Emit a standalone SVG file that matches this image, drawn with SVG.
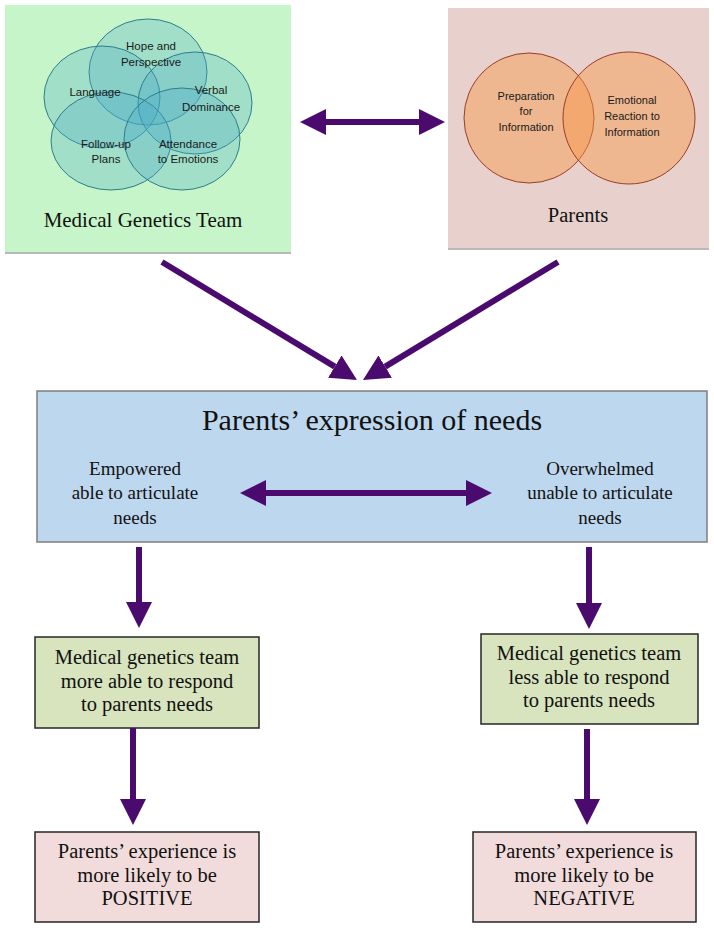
<svg xmlns="http://www.w3.org/2000/svg" width="714" height="928" viewBox="0 0 714 928">
<style>
.sans{font-family:"Liberation Sans","DejaVu Sans",sans-serif;font-size:11.5px;fill:#1a1a1a;text-anchor:middle}
.sans2{font-family:"Liberation Sans","DejaVu Sans",sans-serif;font-size:11px;fill:#1a1a1a;text-anchor:middle}
.serif{font-family:"Liberation Serif","DejaVu Serif",serif;fill:#111;text-anchor:middle}
.lbl{font-size:20.5px}
.mid{font-size:19px}
.conn{stroke:#4a0a6e;stroke-width:6;fill:none}
.venn1{fill:#4bacc6;fill-opacity:0.3;stroke:#2e7d8c;stroke-width:1}
.venn2{fill:#f79646;fill-opacity:0.45;stroke:#9b3c2a;stroke-width:1}
</style>
<defs>
<marker id="ah" markerUnits="userSpaceOnUse" viewBox="0 0 26 26" markerWidth="26" markerHeight="26" refX="0" refY="13" orient="auto-start-reverse">
<path d="M0,0 L26,13 L0,26 z" fill="#4a0a6e"/>
</marker>
</defs>
<rect width="714" height="928" fill="#fff"/>

<g id="medical-genetics-team">
<rect x="5" y="5" width="286" height="247" fill="#c6f5c9"/>
<line x1="5" y1="253" x2="291" y2="253" stroke="#b9b9b9" stroke-width="2"/>
<ellipse class="venn1" cx="148" cy="72" rx="59" ry="53"/>
<ellipse class="venn1" cx="102" cy="97" rx="58" ry="51"/>
<ellipse class="venn1" cx="195" cy="103" rx="57" ry="51"/>
<ellipse class="venn1" cx="111" cy="141" rx="60" ry="49"/>
<ellipse class="venn1" cx="182" cy="139" rx="58" ry="51"/>
<text class="sans" x="151" y="50">Hope and</text>
<text class="sans" x="151" y="66">Perspective</text>
<text class="sans" x="95" y="96">Language</text>
<text class="sans" x="211" y="94">Verbal</text>
<text class="sans" x="211" y="111">Dominance</text>
<text class="sans" x="106" y="148">Follow-up</text>
<text class="sans" x="106" y="163">Plans</text>
<text class="sans" x="188" y="148">Attendance</text>
<text class="sans" x="188" y="163">to Emotions</text>
<text class="serif" x="143" y="227" font-size="21">Medical Genetics Team</text>
</g>

<g id="parents">
<rect x="448" y="8" width="261" height="240" fill="#e8d1cc"/>
<line x1="448" y1="249" x2="709" y2="249" stroke="#b9b9b9" stroke-width="2"/>
<circle class="venn2" cx="529" cy="118" r="65"/>
<circle class="venn2" cx="629" cy="118" r="66"/>
<text class="sans2" x="526" y="100">Preparation</text>
<text class="sans2" x="526" y="115">for</text>
<text class="sans2" x="526" y="131">Information</text>
<text class="sans2" x="632" y="104">Emotional</text>
<text class="sans2" x="632" y="120">Reaction to</text>
<text class="sans2" x="632" y="136">Information</text>
<text class="serif" x="578" y="222" font-size="20.5">Parents</text>
</g>

<g id="expression-of-needs">
<rect x="37" y="391" width="670" height="151" fill="#bdd7ee" stroke="#7f7f7f" stroke-width="1.5"/>
<text class="serif" x="372" y="430" font-size="30">Parents’ expression of needs</text>
<text class="serif mid" x="135" y="475">Empowered</text>
<text class="serif mid" x="135" y="499">able to articulate</text>
<text class="serif mid" x="135" y="524">needs</text>
<text class="serif mid" x="600" y="475">Overwhelmed</text>
<text class="serif mid" x="600" y="499">unable to articulate</text>
<text class="serif mid" x="600" y="524">needs</text>
</g>

<g id="team-more-able">
<rect x="35" y="637" width="224" height="91" fill="#d7e4bd" stroke="#262626" stroke-width="1.5"/>
<text class="serif lbl" x="147" y="664">Medical genetics team</text>
<text class="serif lbl" x="147" y="688">more able to respond</text>
<text class="serif lbl" x="147" y="711">to parents needs</text>
</g>

<g id="team-less-able">
<rect x="481" y="634" width="217" height="90" fill="#d7e4bd" stroke="#262626" stroke-width="1.5"/>
<text class="serif lbl" x="589" y="660">Medical genetics team</text>
<text class="serif lbl" x="589" y="684">less able to respond</text>
<text class="serif lbl" x="589" y="707">to parents needs</text>
</g>

<g id="positive">
<rect x="35" y="832" width="224" height="90" fill="#f2dcdb" stroke="#262626" stroke-width="1.5"/>
<text class="serif lbl" x="147" y="858">Parents’ experience is</text>
<text class="serif lbl" x="147" y="882">more likely to be</text>
<text class="serif lbl" x="147" y="905">POSITIVE</text>
</g>

<g id="negative">
<rect x="473" y="832" width="223" height="90" fill="#f2dcdb" stroke="#262626" stroke-width="1.5"/>
<text class="serif lbl" x="584" y="858">Parents’ experience is</text>
<text class="serif lbl" x="584" y="882">more likely to be</text>
<text class="serif lbl" x="584" y="905">NEGATIVE</text>
</g>

<g id="connectors">
<line class="conn" x1="326" y1="122" x2="419" y2="122" marker-start="url(#ah)" marker-end="url(#ah)"/>
<line class="conn" x1="162" y1="262" x2="334.8" y2="366.6" marker-end="url(#ah)"/>
<line class="conn" x1="558" y1="262" x2="385.2" y2="366.6" marker-end="url(#ah)"/>
<line class="conn" x1="266" y1="493" x2="466" y2="493" marker-start="url(#ah)" marker-end="url(#ah)"/>
<line class="conn" x1="139" y1="547" x2="139" y2="602" marker-end="url(#ah)"/>
<line class="conn" x1="133" y1="728" x2="133" y2="799" marker-end="url(#ah)"/>
<line class="conn" x1="589" y1="547" x2="589" y2="603" marker-end="url(#ah)"/>
<line class="conn" x1="587" y1="729" x2="587" y2="799" marker-end="url(#ah)"/>
</g>
</svg>
